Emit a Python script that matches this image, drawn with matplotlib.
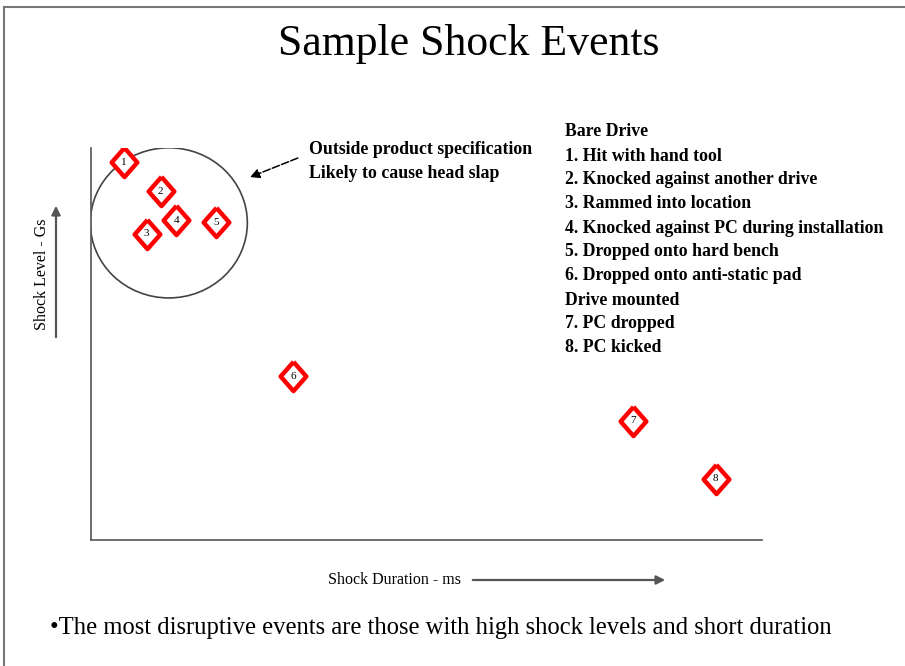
import matplotlib
matplotlib.use("Agg")
import matplotlib.pyplot as plt
from matplotlib.patches import Ellipse, FancyArrowPatch
from matplotlib.lines import Line2D

# event positions (arbitrary duration / level units)
event_ids = ["1", "2", "3", "4", "5", "6", "7", "8"]
duration = [4.9, 10.4, 8.3, 12.7, 18.6, 30.1, 80.8, 93.1]
level = [96.4, 89.0, 78.1, 81.6, 81.1, 41.8, 30.4, 15.6]

legend_lines = [
    "Bare Drive",
    "1. Hit with hand tool",
    "2. Knocked against another drive",
    "3. Rammed into location",
    "4. Knocked against PC during installation",
    "5. Dropped onto hard bench",
    "6. Dropped onto anti-static pad",
    "Drive mounted",
    "7. PC dropped",
    "8. PC kicked",
]

serif = "Liberation Serif"
W, H = 905, 666

fig = plt.figure(figsize=(W / 100, H / 100), dpi=100)
fig.patch.set_facecolor("white")

# frame lines along top and left edge
fig.add_artist(Line2D([4 / W, 4 / W], [0, 1 - 7 / H], color="#777777", lw=1.5))
fig.add_artist(Line2D([4 / W, 1], [1 - 7 / H, 1 - 7 / H], color="#777777", lw=1.5))

ax = fig.add_axes([91 / W, 1 - 540 / H, 671 / W, 392 / H])
ax.set_xlim(0, 100)
ax.set_ylim(0, 100)
ax.set_facecolor("none")
for s in ["top", "right"]:
    ax.spines[s].set_visible(False)
for s in ["left", "bottom"]:
    ax.spines[s].set_color("#555555")
    ax.spines[s].set_linewidth(1.2)
ax.set_xticks([])
ax.set_yticks([])

# circle round the out-of-spec group
ax.add_patch(Ellipse((11.6, 80.9), 23.4, 38.3, fill=False, ec="#444444", lw=1.2, zorder=2))

diamond = [(0, 1), (0.88, 0), (0, -1), (-0.88, 0), (0, 1)]
for i, x, y in zip(event_ids, duration, level):
    ax.plot(x, y, marker=diamond, ms=21, mfc="white", mec="red", mew=3.2, zorder=3)
    ax.text(x, y, i, ha="center", va="center", fontsize=8, family=serif, zorder=4)

ax.annotate("", xy=(23.3, 92.3), xytext=(31.2, 97.7),
            arrowprops=dict(arrowstyle="-|>", color="black", lw=1.1, ls=(0, (5, 1.5)),
                            mutation_scale=14))

fig.text(309 / W, 1 - 150 / H, "Outside product specification", family=serif,
         fontweight="bold", fontsize=12.8, va="center", ha="left")
fig.text(309 / W, 1 - 174 / H, "Likely to cause head slap", family=serif,
         fontweight="bold", fontsize=12.8, va="center", ha="left")

for k, line in enumerate(legend_lines):
    fig.text(565 / W, 1 - (132 + 24 * k) / H, line, family=serif,
             fontweight="bold", fontsize=12.8, va="center", ha="left")

fig.text(0.5 * (278 + 660) / W, 1 - 44 / H, "Sample Shock Events", family=serif,
         fontsize=31.5, ha="center", va="center")

# axis labels with arrows
fig.text(42 / W, 1 - 274 / H, "Shock Level - Gs", family=serif, fontsize=11.5,
         rotation=90, ha="center", va="center")
fig.add_artist(FancyArrowPatch(
    (56 / W, 1 - 340 / H), (56 / W, 1 - 203 / H), transform=fig.transFigure,
    arrowstyle="-|>", mutation_scale=13, color="#555555", lw=1.6))

fig.text(394 / W, 1 - 580 / H, "Shock Duration - ms", family=serif, fontsize=11.5,
         ha="center", va="center")
fig.add_artist(FancyArrowPatch(
    (470 / W, 1 - 580 / H), (668 / W, 1 - 580 / H), transform=fig.transFigure,
    arrowstyle="-|>", mutation_scale=13, color="#555555", lw=1.6))

fig.text(50 / W, 1 - 628 / H,
         "\u2022The most disruptive events are those with high shock levels and short duration",
         family=serif, fontsize=17.7, ha="left", va="center")

fig.savefig("out.png", dpi=100)
